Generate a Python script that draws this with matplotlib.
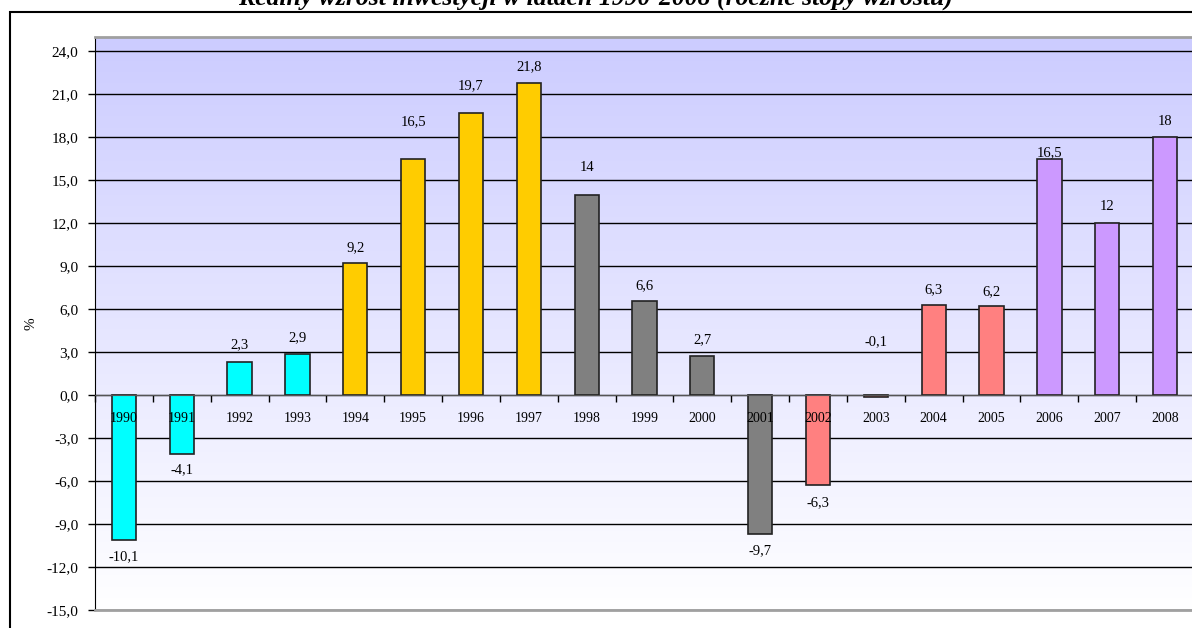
import numpy as np
import matplotlib
matplotlib.use("Agg")
import matplotlib.pyplot as plt
from matplotlib.colors import LinearSegmentedColormap
from matplotlib.patches import Rectangle

years = ["1990", "1991", "1992", "1993", "1994", "1995", "1996", "1997", "1998", "1999",
         "2000", "2001", "2002", "2003", "2004", "2005", "2006", "2007", "2008"]
growth = [-10.1, -4.1, 2.3, 2.9, 9.2, 16.5, 19.7, 21.8, 14, 6.6,
          2.7, -9.7, -6.3, -0.1, 6.3, 6.2, 16.5, 12, 18]
value_labels = ["-10,1", "-4,1", "2,3", "2,9", "9,2", "16,5", "19,7", "21,8", "14", "6,6",
                "2,7", "-9,7", "-6,3", "-0,1", "6,3", "6,2", "16,5", "12", "18"]

# kolory grup lat (jak w oryginale z Excela)
bar_colors = ["#00FFFF"] * 4 + ["#FFCC00"] * 4 + ["#808080"] * 4 + ["#FF8080"] * 4 + ["#CC99FF"] * 3
# przesuniecie etykiet w pikselach (w gore dodatnie)
label_dy = [-17, -16, 17, 16, 16, 37, 27, 16, 27, 15, 17, -17, -17, 55, 15, 15, 6, 17, 16]

plt.rcParams['font.family'] = ['Liberation Serif', 'DejaVu Serif']
plt.rcParams['font.size'] = 10

W, H = 1192, 628
fig = plt.figure(figsize=(W / 100, H / 100), dpi=100)
ax = fig.add_axes([95 / W, (H - 610) / H, 1099 / W, (610 - 37) / H])

x = np.arange(len(years))
ymin, ymax = -15, 25
ax.set_xlim(-0.5, len(years) - 0.5)
ax.set_ylim(ymin, ymax)

# tlo z gradientem
grad = np.linspace(0, 1, 256).reshape(-1, 1)
cmap = LinearSegmentedColormap.from_list("bg", ["#FFFFFF", "#CCCCFF"])
ax.imshow(grad, cmap=cmap, origin="lower", aspect="auto",
          extent=(-0.5, len(years) - 0.5, ymin, ymax), zorder=0)

ax.bar(x, growth, width=0.42, color=bar_colors, edgecolor="#222222", linewidth=1.2, zorder=2)

for i in range(len(years)):
    ax.annotate(value_labels[i], (x[i], growth[i]), xytext=(0, label_dy[i]),
                textcoords="offset pixels", ha="center", va="center", fontsize=10.5, zorder=4)
    ax.annotate(years[i], (x[i], 0), xytext=(0, -23), textcoords="offset pixels",
                ha="center", va="center", fontsize=10, zorder=4)

ax.set_axisbelow(True)
yt = np.arange(-15, 25, 3)
ax.set_yticks(yt)
ax.set_yticklabels([f"{v:.1f}".replace(".", ",") for v in yt])
ax.yaxis.grid(True, color="black", linewidth=1)
ax.tick_params(axis="y", direction="out", length=5, width=1, pad=7, labelsize=11)

ax.set_xticks(np.arange(-0.5, len(years), 1))
ax.set_xticklabels([])
ax.tick_params(axis="x", direction="out", length=5, width=1)

ax.spines["bottom"].set_position(("data", 0))
ax.spines["bottom"].set_color("#555555")
ax.spines["top"].set_color("#A0A0A0")
ax.spines["top"].set_linewidth(2)
ax.spines["left"].set_color("black")
ax.spines["right"].set_visible(False)
ax.axhline(ymin, color="#A0A0A0", linewidth=2, zorder=3, clip_on=False)

ax.set_ylabel("%", fontsize=11)
ax.yaxis.set_label_coords((38 - 95) / 1099, 0.5)

# ramka wykresu i (przyciety u gory) tytul
fig.add_artist(Rectangle((10 / W, -0.1), 1.2, (H - 12) / H + 0.1, transform=fig.transFigure,
                         fill=False, edgecolor="black", linewidth=1.5))
fig.text(596 / W, 1 - 5 / H, "Realny wzrost inwestycji w latach 1990-2008 (roczne stopy wzrostu)",
         ha="center", va="baseline", fontsize=18.5, fontweight="bold", fontstyle="italic")

fig.savefig("out.png", dpi=100)
